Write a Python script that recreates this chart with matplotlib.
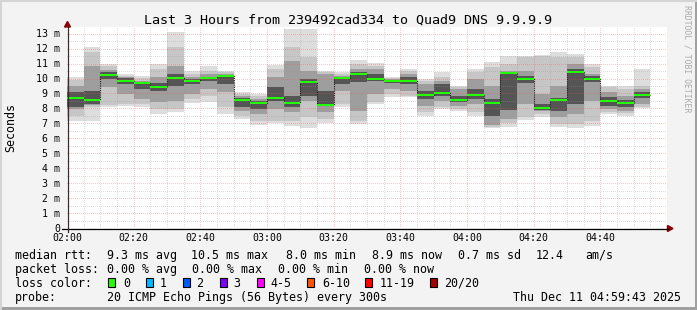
import numpy as np
import matplotlib
matplotlib.use("Agg")
import matplotlib.pyplot as plt
import matplotlib.transforms as mtrans
from matplotlib.patches import Rectangle, Polygon
from matplotlib.lines import Line2D

# ---------------- data (milliseconds) ----------------
bar_times = ["02:00", "02:05", "02:10", "02:15", "02:20", "02:25", "02:30", "02:35",
             "02:40", "02:45", "02:50", "02:55", "03:00", "03:05", "03:10", "03:15",
             "03:20", "03:25", "03:30", "03:35", "03:40", "03:45", "03:50", "03:55",
             "04:00", "04:05", "04:10", "04:15", "04:20", "04:25", "04:30", "04:35",
             "04:40", "04:45", "04:50"]
median = [8.72, 8.56, 10.25, 9.85, 9.70, 9.45, 10.03, 9.85, 10.05, 10.15, 8.56, 8.36,
          8.70, 8.36, 9.79, 8.25, 10.01, 10.33, 9.99, 9.85, 9.85, 8.90, 9.05, 8.58,
          8.90, 8.38, 10.35, 9.98, 8.03, 8.56, 10.46, 9.99, 8.52, 8.36, 8.90]
# outermost pings (min / max)
outer_lo = [7.18, 7.18, 8.07, 8.19, 8.07, 7.63, 7.74, 8.34, 8.41, 7.63, 7.30, 6.89,
            7.00, 6.85, 6.71, 7.04, 8.07, 6.96, 8.30, 8.74, 8.74, 7.52, 7.96, 7.85,
            7.52, 6.67, 6.78, 7.25, 7.41, 6.78, 6.67, 6.84, 7.63, 7.52, 8.03]
outer_hi = [10.08, 12.13, 11.00, 10.30, 10.19, 10.97, 13.09, 10.48, 10.86, 10.53, 9.08, 8.97,
            10.93, 13.32, 13.32, 10.53, 10.42, 11.24, 11.02, 10.08, 10.64, 9.97, 10.42, 9.52,
            10.64, 11.12, 11.50, 11.53, 11.60, 11.75, 11.64, 10.97, 9.52, 9.52, 10.64]
# second band
band2_lo = [7.50, 8.10, 8.20, 8.30, 8.30, 7.96, 7.96, 8.63, 8.85, 8.07, 7.52, 7.18,
            7.18, 7.18, 7.41, 7.30, 8.30, 7.18, 8.41, 8.97, 8.85, 7.74, 8.07, 7.96,
            7.74, 6.75, 7.00, 7.41, 7.63, 6.96, 6.96, 7.18, 7.74, 7.70, 8.10]
band2_hi = [9.90, 11.80, 10.86, 10.20, 10.04, 10.64, 12.09, 10.30, 10.53, 10.42, 8.97, 8.86,
            10.64, 12.09, 11.42, 10.42, 10.30, 10.97, 10.86, 10.02, 10.53, 9.86, 10.08, 9.41,
            10.42, 10.75, 11.00, 11.42, 11.53, 11.42, 11.42, 10.80, 9.41, 9.30, 9.52]
# third band
band3_lo = [7.96, 8.20, 9.41, 8.96, 8.63, 8.41, 8.52, 8.96, 9.30, 9.08, 7.85, 7.63,
            7.96, 7.74, 8.52, 7.74, 9.19, 7.85, 8.97, 9.30, 9.19, 8.19, 8.52, 8.19,
            8.30, 6.90, 7.30, 8.30, 7.80, 7.41, 7.63, 8.52, 7.96, 7.85, 8.30]
band3_hi = [9.50, 10.86, 10.57, 10.13, 9.86, 10.08, 10.86, 10.08, 10.30, 10.30, 8.86, 8.63,
            10.08, 11.20, 10.53, 10.30, 10.19, 10.64, 10.64, 9.95, 10.30, 9.64, 9.82, 9.30,
            9.97, 9.50, 10.50, 10.53, 8.97, 9.52, 10.97, 10.30, 9.08, 8.86, 9.30]
# innermost band
core_lo = [8.08, 8.30, 9.97, 9.63, 9.30, 9.19, 9.52, 9.63, 9.86, 9.63, 8.07, 7.96,
           8.48, 8.07, 8.86, 8.19, 9.63, 9.75, 9.86, 9.68, 9.63, 8.63, 8.86, 8.41,
           8.63, 7.50, 7.90, 9.68, 7.90, 7.85, 8.30, 9.75, 8.19, 8.07, 8.70]
core_hi = [9.08, 9.19, 10.42, 10.02, 9.75, 9.68, 10.30, 9.97, 10.13, 10.26, 8.70, 8.48,
           9.46, 8.86, 9.97, 9.19, 10.08, 10.42, 10.30, 9.90, 10.08, 9.19, 9.64, 8.86,
           9.30, 8.65, 10.38, 10.19, 8.30, 8.70, 10.64, 10.19, 8.74, 8.57, 9.08]

y_tick_vals = list(range(0, 14))
y_tick_labels = ["0"] + [f"{v} m" for v in range(1, 14)]
x_tick_labels = ["02:00", "02:20", "02:40", "03:00", "03:20", "03:40", "04:00", "04:20", "04:40"]

loss_labels = ["0", "1", "2", "3", "4-5", "6-10", "11-19", "20/20"]
loss_colors = ["#22ff00", "#00b8ff", "#0059ff", "#7e00ff", "#ff00ff", "#ff5500", "#ff0000", "#a10000"]

# ---------------- figure ----------------
W, H = 697, 310
fig = plt.figure(figsize=(W / 100, H / 100), dpi=100)
fig.patch.set_facecolor("#f3f3f3")
MONO = "DejaVu Sans Mono"


def fx(x):
    return x / W


def fy(y):
    return 1 - y / H


PX_PER_MS = 14.95
ax_left, ax_right, ax_top, ax_bot = 67, 667, 27, 228
ax = fig.add_axes([fx(ax_left), fy(ax_bot), (ax_right - ax_left) / W, (ax_bot - ax_top) / H])
ax.set_facecolor("white")
ax.set_xlim(0, 180)
ax.set_ylim(0, (ax_bot - ax_top) / PX_PER_MS)
for s in ax.spines.values():
    s.set_visible(False)
ax.set_xticks([])
ax.set_yticks([])

x = np.array([int(t[:2]) * 60 + int(t[3:]) - 120 for t in bar_times], dtype=float)
med = np.array(median)

levels = [(outer_lo, outer_hi, "#dddddd"),
          (band2_lo, band2_hi, "#c6c6c6"),
          (band3_lo, band3_hi, "#9e9e9e"),
          (core_lo, core_hi, "#555555")]
for lo, hi, col in levels:
    lo = np.array(lo)
    hi = np.array(hi)
    ax.bar(x, hi - lo, bottom=lo, width=5, align="edge", color=col, linewidth=0, zorder=1)

# grid (drawn over the smoke like rrdtool)
grid_minor = (0.6, 0.6, 0.6, 0.32)
grid_major = (1.0, 0.3, 0.3, 0.32)
dot = (0, (1, 1.6))
for v in np.arange(0.5, 13.5, 0.5):
    col = grid_major if abs(v - round(v)) < 1e-6 else grid_minor
    ax.axhline(v, color=col, lw=0.72, ls=dot, zorder=2, antialiased=False)
for m in range(5, 180, 5):
    col = grid_major if m % 20 == 0 else grid_minor
    ax.axvline(m, color=col, lw=0.72, ls=dot, zorder=2, antialiased=False)

# median step line and green loss-colour marker
edges = np.append(x, x[-1] + 5)
ax.step(edges, np.append(med, med[-1]), where="post", color="#202020", lw=0.8, ls=(0, (1, 1)), zorder=3)
ax.bar(x, 0.14, bottom=med - 0.07, width=5, align="edge", color=loss_colors[0], linewidth=0, zorder=4)

# axes lines and arrows
fig.add_artist(Line2D([fx(62), fx(668)], [fy(228.5), fy(228.5)], color="black", lw=0.9))
fig.add_artist(Line2D([fx(67.5), fx(67.5)], [fy(231.5), fy(26)], color="#3c2a2a", lw=0.9))
fig.add_artist(Polygon([[fx(64.5), fy(27)], [fx(70.5), fy(27)], [fx(67.5), fy(21.5)]],
                       closed=True, color="#8b0000", transform=fig.transFigure))
fig.add_artist(Polygon([[fx(667.5), fy(225.5)], [fx(667.5), fy(231.5)], [fx(673), fy(228.5)]],
                       closed=True, color="#8b0000", transform=fig.transFigure))

# y tick labels
ytr = mtrans.blended_transform_factory(fig.transFigure, ax.transData) + \
    mtrans.ScaledTranslation(0, -3.6 / 100, fig.dpi_scale_trans)
for v, lab in zip(y_tick_vals, y_tick_labels):
    fig.text(fx(60), v, lab, transform=ytr, ha="right", va="baseline",
             fontsize=7.1, family=MONO, color="black")

# x tick labels
xtr = mtrans.blended_transform_factory(ax.transData, fig.transFigure)
for i, lab in enumerate(x_tick_labels):
    fig.text(i * 20, fy(241.3), lab, transform=xtr, ha="center", va="baseline",
             fontsize=7.1, family=MONO, color="black")

# titles
fig.text(fx(347.5), fy(24), "Last 3 Hours from 239492cad334 to Quad9 DNS 9.9.9.9",
         ha="center", va="baseline", fontsize=9.6, family=MONO)
fig.text(fx(10.5), fy(127.5), "Seconds", rotation=90, ha="center", va="center",
         fontsize=8.4, family=MONO)
fig.text(fx(686.5), fy(59), "RRDTOOL / TOBI OETIKER", rotation=270, ha="center", va="center",
         fontsize=5.9, family=MONO, color="#aaaaaa")

# legend
LF = 8.35


def ltxt(xp, yp, s, ha="left"):
    fig.text(fx(xp), fy(yp), s, ha=ha, va="baseline", fontsize=LF, family=MONO, color="black")


b1, b2, b3, b4 = 259.0, 272.8, 286.7, 300.6
ltxt(15.3, b1, "median rtt:")
ltxt(107.3, b1, "9.3 ms avg")
ltxt(191.0, b1, "10.5 ms max")
ltxt(286.0, b1, "8.0 ms min")
ltxt(371.7, b1, "8.9 ms now")
ltxt(458.4, b1, "0.7 ms sd")
ltxt(536.0, b1, "12.4")
ltxt(585.6, b1, "am/s")

ltxt(15.3, b2, "packet loss:")
ltxt(107.3, b2, "0.00 % avg")
ltxt(192.2, b2, "0.00 % max")
ltxt(278.4, b2, "0.00 % min")
ltxt(364.2, b2, "0.00 % now")

ltxt(15.3, b3, "loss color:")
box_x = [108.3, 145.5, 182.5, 219.8, 256.8, 307.4, 365.3, 430.2]
lab_x = [122.9, 159.2, 196.6, 233.5, 270.4, 322.0, 379.2, 444.2]
for bx, lx, lab, col in zip(box_x, lab_x, loss_labels, loss_colors):
    fig.add_artist(Rectangle((fx(bx), fy(286.5)), 7 / W, 9 / H, transform=fig.transFigure,
                             facecolor=col, edgecolor="black", lw=0.8))
    ltxt(lx, b3, lab)

ltxt(15.3, b4, "probe:")
ltxt(107.0, b4, "20 ICMP Echo Pings (56 Bytes) every 300s")
ltxt(680.8, b4, "Thu Dec 11 04:59:43 2025", ha="right")

# frame
fig.add_artist(Line2D([0, 1], [fy(0.5), fy(0.5)], color="#d4d4d4", lw=1.5))
fig.add_artist(Line2D([fx(0.5), fx(0.5)], [0, 1], color="#d4d4d4", lw=1.5))
fig.add_artist(Rectangle((0, 0), 1, 3 / H, transform=fig.transFigure, color="#a0a0a0", lw=0))
fig.add_artist(Rectangle((fx(695), 0), 2 / W, 1, transform=fig.transFigure, color="#a0a0a0", lw=0))

fig.savefig("out.png", dpi=100, facecolor=fig.get_facecolor())
